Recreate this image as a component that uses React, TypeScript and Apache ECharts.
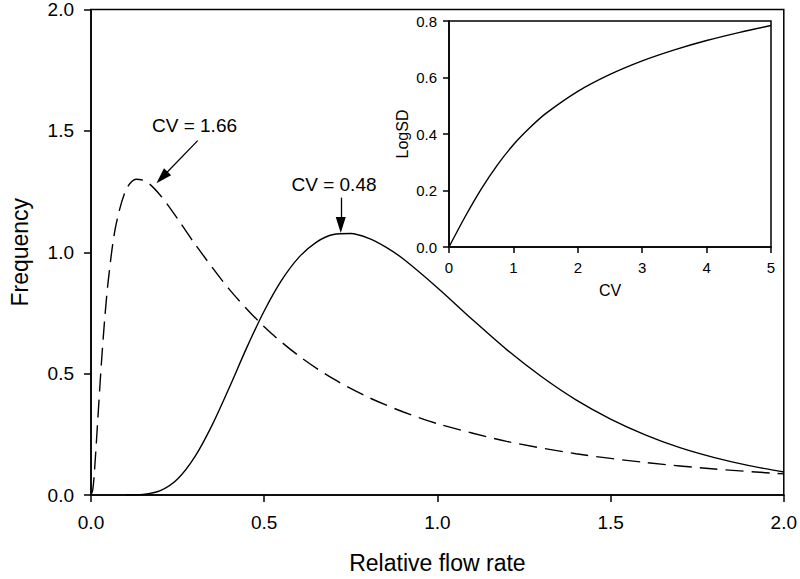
import React, { useEffect, useRef } from "react";
import * as echarts from "echarts";

const dashX = [0, 0.005, 0.01, 0.02, 0.03, 0.04, 0.05, 0.07, 0.1, 0.13, 0.16, 0.2, 0.25, 0.3, 0.4, 0.5, 0.6, 0.7, 0.8, 0.9, 1.0, 1.2, 1.4, 1.6, 1.8, 2.0];
const dashY = [0, 0.021, 0.097, 0.32, 0.543, 0.733, 0.885, 1.097, 1.254, 1.301, 1.291, 1.235, 1.138, 1.034, 0.846, 0.693, 0.573, 0.478, 0.403, 0.343, 0.294, 0.221, 0.17, 0.134, 0.107, 0.087];

const solidX = [0.1, 0.15, 0.2, 0.25, 0.3, 0.35, 0.4, 0.45, 0.5, 0.55, 0.6, 0.65, 0.7, 0.75, 0.8, 0.85, 0.9, 1.0, 1.1, 1.2, 1.3, 1.4, 1.5, 1.6, 1.7, 1.8, 1.9, 2.0];
const solidY = [0, 0.0025, 0.018, 0.066, 0.158, 0.289, 0.445, 0.608, 0.758, 0.884, 0.979, 1.041, 1.073, 1.077, 1.058, 1.022, 0.974, 0.854, 0.724, 0.599, 0.488, 0.392, 0.313, 0.248, 0.195, 0.154, 0.121, 0.095];

const cvX = [0, 0.25, 0.5, 0.75, 1, 1.25, 1.5, 2, 2.5, 3, 3.5, 4, 4.5, 5];
const logSD = [0, 0.107, 0.205, 0.29, 0.362, 0.421, 0.472, 0.551, 0.611, 0.659, 0.698, 0.731, 0.759, 0.784];

const annotations = ["CV = 1.66", "CV = 0.48"];

const FONT = "Liberation Sans";

function zip(xs: number[], ys: number[]) {
  return xs.map((x, i) => [x, ys[i]]);
}

export default function App() {
  const ref = useRef<HTMLDivElement>(null);
  useEffect(() => {
    if (!ref.current) return;
    const chart = echarts.init(ref.current, undefined, { renderer: "svg" });
    const axisLine = { show: true, lineStyle: { color: "#000", width: 1.5 } };
    const arrowLine = {
      silent: true,
      symbol: ["none", "triangle"],
      symbolSize: [10, 16],
      label: { show: false },
      lineStyle: { color: "#000", type: "solid", width: 1.3 },
      emphasis: { disabled: true },
      data: [
        [{ coord: [0.308, 1.46] }, { coord: [0.205, 1.308] }],
        [{ coord: [0.721, 1.225] }, { coord: [0.721, 1.112] }],
      ],
    };
    chart.setOption({
      animation: false,
      textStyle: { fontFamily: FONT, color: "#000" },
      grid: [
        { left: 83, right: 13, top: 8, bottom: 78, show: true, borderColor: "#000", borderWidth: 1.5, backgroundColor: "transparent" },
        { left: 449, right: 29, top: 21, bottom: 332, show: true, borderColor: "#000", borderWidth: 1.5, backgroundColor: "transparent" },
      ],
      xAxis: [
        {
          gridIndex: 0, type: "value", min: 0, max: 2, interval: 0.5,
          axisLine, splitLine: { show: false },
          axisTick: { show: true, inside: false, length: 7, lineStyle: { color: "#000", width: 1.5 } },
          axisLabel: { fontSize: 19, color: "#000", margin: 18, fontFamily: FONT, formatter: (v: number) => v.toFixed(1) },
          name: "Relative flow rate", nameLocation: "middle", nameGap: 56,
          nameTextStyle: { fontSize: 23, color: "#000", fontFamily: FONT },
        },
        {
          gridIndex: 1, type: "value", min: 0, max: 5, interval: 1,
          axisLine, splitLine: { show: false },
          axisTick: { show: true, inside: false, length: 6, lineStyle: { color: "#000", width: 1.5 } },
          axisLabel: { fontSize: 15, color: "#000", margin: 13, fontFamily: FONT },
          name: "CV", nameLocation: "middle", nameGap: 35,
          nameTextStyle: { fontSize: 16, color: "#000", fontFamily: FONT },
        },
      ],
      yAxis: [
        {
          gridIndex: 0, type: "value", min: 0, max: 2, interval: 0.5,
          axisLine, splitLine: { show: false },
          axisTick: { show: true, inside: false, length: 7, lineStyle: { color: "#000", width: 1.5 } },
          axisLabel: { fontSize: 19, color: "#000", margin: 17, fontFamily: FONT, formatter: (v: number) => v.toFixed(1) },
          name: "Frequency", nameLocation: "middle", nameGap: 60,
          nameTextStyle: { fontSize: 23, color: "#000", fontFamily: FONT },
        },
        {
          gridIndex: 1, type: "value", min: 0, max: 0.8, interval: 0.2,
          axisLine, splitLine: { show: false },
          axisTick: { show: true, inside: false, length: 6, lineStyle: { color: "#000", width: 1.5 } },
          axisLabel: { fontSize: 15, color: "#000", margin: 12, fontFamily: FONT, formatter: (v: number) => v.toFixed(1) },
          name: "LogSD", nameLocation: "middle", nameGap: 39,
          nameTextStyle: { fontSize: 16, color: "#000", fontFamily: FONT },
        },
      ],
      series: [
        {
          type: "line", xAxisIndex: 0, yAxisIndex: 0, data: zip(dashX, dashY),
          smooth: 0.3, showSymbol: false, silent: true,
          lineStyle: { color: "#000", width: 1.4, type: [18, 8] },
        },
        {
          type: "line", xAxisIndex: 0, yAxisIndex: 0, data: zip(solidX, solidY),
          smooth: 0.3, showSymbol: false, silent: true,
          lineStyle: { color: "#000", width: 1.4, type: "solid" },
          markLine: arrowLine,
        },
        {
          type: "line", xAxisIndex: 1, yAxisIndex: 1, data: zip(cvX, logSD),
          smooth: 0.3, showSymbol: false, silent: true,
          lineStyle: { color: "#000", width: 1.4 },
        },
      ],
      graphic: [
        { type: "text", x: 194.5, y: 125, style: { text: annotations[0], font: `19px ${FONT}`, fill: "#000", textAlign: "center", textVerticalAlign: "middle" } },
        { type: "text", x: 334, y: 184, style: { text: annotations[1], font: `19px ${FONT}`, fill: "#000", textAlign: "center", textVerticalAlign: "middle" } },
      ],
    });
    return () => chart.dispose();
  }, []);
  return <div ref={ref} style={{ position: "fixed", left: 0, top: 0, width: 800, height: 579, background: "#fff" }} />;
}
